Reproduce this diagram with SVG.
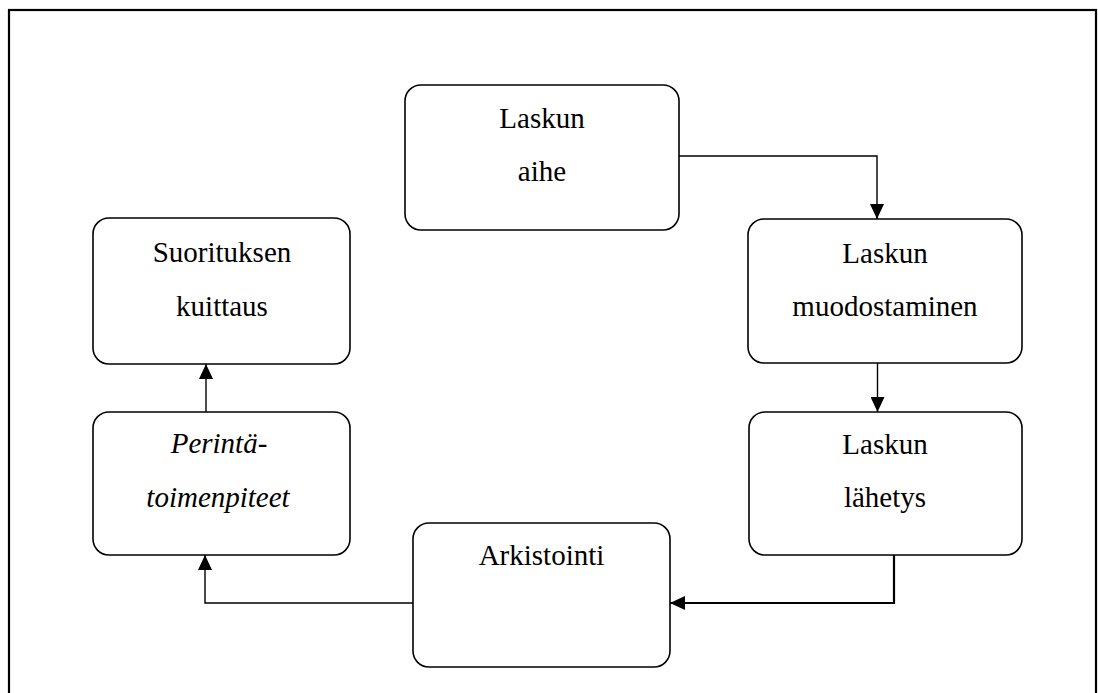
<svg xmlns="http://www.w3.org/2000/svg" width="1098" height="693" viewBox="0 0 1098 693">
  <style>
    .frame { fill: none; stroke: #000; stroke-width: 2.2; }
    .box { fill: #fff; stroke: #000; stroke-width: 1.6; }
    text { font-family: 'Liberation Serif', 'Times New Roman', serif; font-size: 29px; fill: #000; text-anchor: middle; }
    .it { font-style: italic; }
    .wire { fill: none; stroke: #000; stroke-width: 1.4; }
    .wire.heavy { stroke-width: 2.2; }
  </style>
  <defs>
    <marker id="arrow" viewBox="0 0 15 14" refX="15" refY="7" markerWidth="15" markerHeight="14" markerUnits="userSpaceOnUse" orient="auto">
      <path d="M0,0 L15,7 L0,14 Z" fill="#000"/>
    </marker>
  </defs>

  <rect width="1098" height="693" fill="#fff"/>
  <!-- page frame, bottom edge runs past the canvas -->
  <rect class="frame" x="9" y="10" width="1087" height="700"/>

  <g id="connectors">
    <path class="wire" d="M679,156 H877 V219" marker-end="url(#arrow)"/>
    <path class="wire" d="M877.5,363 V412" marker-end="url(#arrow)"/>
    <path class="wire heavy" d="M894,555 V603 H670" marker-end="url(#arrow)"/>
    <path class="wire" d="M413,603 H205 V555" marker-end="url(#arrow)"/>
    <path class="wire" d="M206,412 V364" marker-end="url(#arrow)"/>
  </g>

  <g id="laskun-aihe">
    <rect class="box" x="405" y="85" width="274" height="145" rx="16"/>
    <text x="542" y="128">Laskun</text>
    <text x="542" y="181">aihe</text>
  </g>

  <g id="laskun-muodostaminen">
    <rect class="box" x="748" y="219" width="274" height="144" rx="16"/>
    <text x="885" y="263">Laskun</text>
    <text x="885" y="316">muodostaminen</text>
  </g>

  <g id="laskun-lahetys">
    <rect class="box" x="749" y="412" width="273" height="143" rx="16"/>
    <text x="885" y="454">Laskun</text>
    <text x="885" y="507">lähetys</text>
  </g>

  <g id="arkistointi">
    <rect class="box" x="413" y="523" width="257" height="144" rx="16"/>
    <text x="541.5" y="565">Arkistointi</text>
  </g>

  <g id="perintatoimenpiteet">
    <rect class="box" x="93" y="412" width="257" height="143" rx="16"/>
    <text class="it" x="219" y="453">Perintä-</text>
    <text class="it" x="218" y="507">toimenpiteet</text>
  </g>

  <g id="suorituksen-kuittaus">
    <rect class="box" x="93" y="218" width="257" height="146" rx="16"/>
    <text x="222" y="262">Suorituksen</text>
    <text x="222" y="316">kuittaus</text>
  </g>
</svg>
